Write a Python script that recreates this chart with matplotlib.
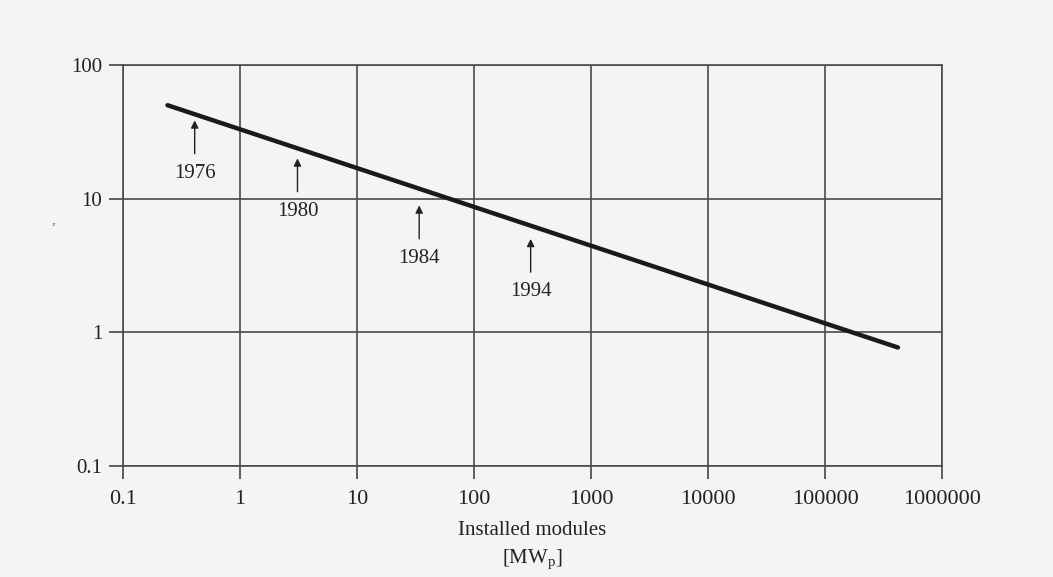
import matplotlib
matplotlib.use("Agg")
import matplotlib.pyplot as plt

# Experience curve (log-log straight line): installed modules [MWp] vs price
line_x = [0.24, 420000]
line_y = [50, 0.77]

# Year markers (arrow tips in data coordinates)
years = ["1976", "1980", "1984", "1994"]
year_x = [0.41, 3.1, 34, 305]
year_y = [38.5, 20.0, 8.9, 5.0]

x_ticks = [0.1, 1, 10, 100, 1000, 10000, 100000, 1000000]
x_labels = ["0.1", "1", "10", "100", "1000", "10000", "100000", "1000000"]
y_ticks = [0.1, 1, 10, 100]
y_labels = ["0.1", "1", "10", "100"]

plt.rcParams['font.family'] = ['Liberation Serif', 'DejaVu Serif']
bg = '#f4f4f2'
fig = plt.figure(figsize=(10.53, 5.77), dpi=100, facecolor=bg)
ax = fig.add_axes([0.1168, 0.1924, 0.7778, 0.6950], facecolor=bg)

ax.set_xscale('log')
ax.set_yscale('log')
ax.set_xlim(0.1, 1000000)
ax.set_ylim(0.1, 100)

ax.plot(line_x, line_y, color='#1a1a1a', lw=3.2, solid_capstyle='round', zorder=3)

for yr, xv, yv in zip(years, year_x, year_y):
    ax.annotate("", xy=(xv, yv), xytext=(0, -24), textcoords='offset points',
                xycoords='data',
                arrowprops=dict(arrowstyle='-|>', color='#222222', lw=1.0,
                                mutation_scale=11, shrinkA=0, shrinkB=0))
    ax.annotate(yr, xy=(xv, yv), xytext=(0, -38), textcoords='offset points',
                ha='center', va='center', fontsize=15, color='#222222')

ax.set_xticks(x_ticks)
ax.set_xticklabels(x_labels)
ax.set_yticks(y_ticks)
ax.set_yticklabels(y_labels)
ax.minorticks_off()
ax.tick_params(axis='x', which='major', length=9, width=1.2, color='#444444',
               labelsize=16, labelcolor='#222222', pad=8)
ax.tick_params(axis='y', which='major', length=10, width=1.2, color='#444444',
               labelsize=15, labelcolor='#222222', pad=5)

ax.grid(True, which='major', color='#4a4a4a', lw=1.2)
for s in ax.spines.values():
    s.set_color('#4a4a4a')
    s.set_linewidth(1.2)

ax.set_xlabel("Installed modules\n[MW$_\\mathregular{p}$]", fontsize=15, color='#222222',
              labelpad=9, linespacing=1.5)

fig.text(0.05, 1 - 226 / 577, "r", fontsize=5, color='#333333')

fig.savefig("out.png", dpi=100, facecolor=bg)
